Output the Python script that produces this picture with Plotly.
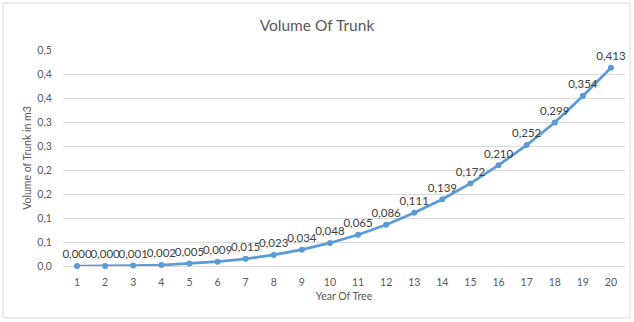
import plotly.graph_objects as go

# Trunk volume per tree age
years = list(range(1, 21))
volume = [0.000, 0.000, 0.001, 0.002, 0.005, 0.009, 0.015, 0.023, 0.034, 0.048,
          0.065, 0.086, 0.111, 0.139, 0.172, 0.210, 0.252, 0.299, 0.354, 0.413]

y_tick_vals = [0.00, 0.05, 0.10, 0.15, 0.20, 0.25, 0.30, 0.35, 0.40, 0.45]
y_tick_text = ["0,0", "0,1", "0,1", "0,2", "0,2", "0,3", "0,3", "0,4", "0,4", "0,5"]

labels = [f"{v:.3f}".replace(".", ",") for v in volume]

FONT = "Lato"
GREY = "#595959"
GRID = "#d9d9d9"

fig = go.Figure()
fig.add_trace(go.Scatter(
    x=years, y=volume,
    mode="lines+markers+text",
    line=dict(color="#5B9BD5", width=2.75),
    marker=dict(color="#5B9BD5", size=6),
    text=labels,
    textposition="top center",
    textfont=dict(family=FONT, size=11.5, color="#404040"),
    cliponaxis=False,
    hoverinfo="skip",
))

fig.update_layout(
    width=634, height=322,
    margin=dict(l=63, r=9, t=50, b=56),
    paper_bgcolor="white", plot_bgcolor="white",
    showlegend=False,
    title=dict(text="Volume Of Trunk", x=0.5, xanchor="center", y=0.922, yanchor="middle",
               font=dict(family=FONT, size=15.5, color=GREY)),
    font=dict(family=FONT, color=GREY),
    xaxis=dict(
        range=[0.5, 20.5], tickmode="array", tickvals=years,
        showgrid=False, zeroline=False, showline=False,
        ticks="outside", ticklen=6, tickcolor="rgba(0,0,0,0)",
        tickfont=dict(family=FONT, size=10.5, color=GREY),
        title=dict(text="Year Of Tree", standoff=6,
                   font=dict(family=FONT, size=10.5, color=GREY)),
        fixedrange=True,
    ),
    yaxis=dict(
        range=[0, 0.45], tickmode="array", tickvals=y_tick_vals, ticktext=y_tick_text,
        showgrid=True, gridcolor=GRID, gridwidth=1,
        zeroline=True, zerolinecolor=GRID, zerolinewidth=1, showline=False,
        ticks="outside", ticklen=8, tickcolor="rgba(0,0,0,0)",
        tickfont=dict(family=FONT, size=10.5, color=GREY),
        title=dict(text="Volume of Trunk in m3", standoff=3,
                   font=dict(family=FONT, size=10.5, color=GREY)),
        fixedrange=True,
    ),
    shapes=[dict(type="rect", xref="paper", yref="paper",
                 x0=-60/562, x1=1 + 5/562, y0=-52/216, y1=1 + 47/216,
                 line=dict(color=GRID, width=1), fillcolor="rgba(0,0,0,0)",
                 layer="below")],
)

fig.write_html("out.html")
